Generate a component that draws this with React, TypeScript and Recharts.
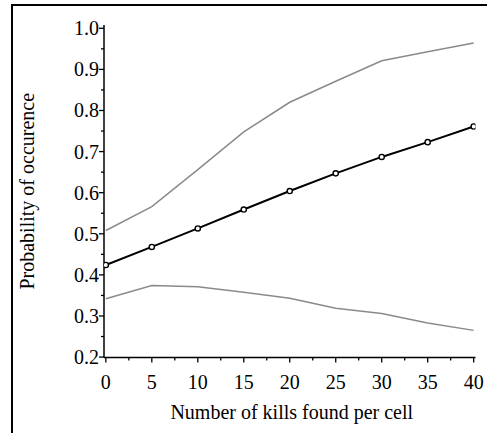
import React from 'react';
import { LineChart, Line, XAxis, YAxis } from 'recharts';

// number of kills found per cell (x positions of the estimates)
const kills = [0, 5, 10, 15, 20, 25, 30, 35, 40];
// fitted probability of occurence and its confidence band
const meanProb = [0.424, 0.468, 0.513, 0.559, 0.604, 0.647, 0.687, 0.723, 0.761];
const upperProb = [0.508, 0.566, 0.656, 0.748, 0.82, 0.871, 0.921, 0.943, 0.964];
const lowerProb = [0.342, 0.374, 0.371, 0.358, 0.343, 0.319, 0.306, 0.283, 0.265];

const xTicks = [0, 2.5, 5, 7.5, 10, 12.5, 15, 17.5, 20, 22.5, 25, 27.5, 30, 32.5, 35, 37.5, 40];
const yTicks = [0.2, 0.25, 0.3, 0.35, 0.4, 0.45, 0.5, 0.55, 0.6, 0.65, 0.7, 0.75, 0.8, 0.85, 0.9, 0.95, 1.0];

const data = kills.map((k, i) => ({
  kills: k,
  mean: meanProb[i],
  upper: upperProb[i],
  lower: lowerProb[i],
}));

const FONT = '"Liberation Serif", "Times New Roman", serif';

const XTick = (props: any) => {
  const { x, y, payload } = props;
  const major = payload.value % 5 === 0;
  return (
    <g>
      <line x1={x} x2={x} y1={y} y2={y + (major ? 5 : 3)} stroke="#000" strokeWidth={1.3} />
      {major && (
        <text x={x} y={y + 31} textAnchor="middle" fontFamily={FONT} fontSize={20} fill="#000">
          {payload.value}
        </text>
      )}
    </g>
  );
};

const YTick = (props: any) => {
  const { x, y, payload } = props;
  const v = payload.value as number;
  const major = Math.abs(v * 10 - Math.round(v * 10)) < 1e-6;
  return (
    <g>
      <line x1={x - (major ? 5 : 3)} x2={x} y1={y} y2={y} stroke="#000" strokeWidth={1.3} />
      {major && (
        <text x={x - 5} y={y + 7} textAnchor="end" fontFamily={FONT} fontSize={20} fill="#000">
          {v.toFixed(1)}
        </text>
      )}
    </g>
  );
};

export default function App() {
  return (
    <div style={{ position: 'absolute', left: 0, top: 0, width: 491, height: 433, background: '#fff' }}>
      <div
        style={{
          position: 'absolute',
          left: 11,
          top: 4,
          width: 476,
          height: 440,
          borderTop: '2px solid #000',
          borderLeft: '2px solid #000',
          boxSizing: 'border-box',
        }}
      />
      <div style={{ position: 'absolute', left: 0, top: 0 }}>
        <LineChart
          width={491}
          height={433}
          data={data}
          margin={{ top: 25, right: 15.5, bottom: 35.5, left: 44 }}
        >
          <XAxis
            dataKey="kills"
            type="number"
            domain={[-0.2, 40.2]}
            ticks={xTicks}
            interval={0}
            allowDataOverflow
            height={40}
            tickSize={0}
            tickMargin={0}
            tickLine={false}
            axisLine={{ stroke: '#000', strokeWidth: 1.5 }}
            tick={<XTick />}
            label={{
              content: (p: any) => (
                <text
                  x={p.viewBox.x + p.viewBox.width / 2 + 2}
                  y={p.viewBox.y + 61}
                  textAnchor="middle"
                  fontFamily={FONT}
                  fontSize={20}
                  fill="#000"
                >
                  Number of kills found per cell
                </text>
              ),
            }}
          />
          <XAxis
            xAxisId="top"
            dataKey="kills"
            type="number"
            orientation="top"
            domain={[-0.2, 40.2]}
            height={0}
            tick={false}
            tickLine={false}
            axisLine={{ stroke: '#000', strokeWidth: 1.5 }}
          />
          <YAxis
            type="number"
            domain={[0.199, 1.008]}
            ticks={yTicks}
            interval={0}
            allowDataOverflow
            width={60}
            tickSize={0}
            tickMargin={0}
            tickLine={false}
            axisLine={{ stroke: '#000', strokeWidth: 1.5 }}
            tick={<YTick />}
            label={{
              content: (p: any) => {
                const cx = 33.5;
                const cy = p.viewBox.y + p.viewBox.height / 2;
                return (
                  <text
                    x={cx}
                    y={cy}
                    transform={`rotate(-90, ${cx}, ${cy})`}
                    textAnchor="middle"
                    fontFamily={FONT}
                    fontSize={20}
                    fill="#000"
                  >
                    Probability of occurence
                  </text>
                );
              },
            }}
          />
          <YAxis
            yAxisId="right"
            orientation="right"
            type="number"
            domain={[0.199, 1.008]}
            width={0}
            tick={false}
            tickLine={false}
            axisLine={{ stroke: '#000', strokeWidth: 1.5 }}
          />
          <Line
            dataKey="upper"
            stroke="#8a8a8a"
            strokeWidth={1.5}
            dot={false}
            isAnimationActive={false}
          />
          <Line
            dataKey="lower"
            stroke="#8a8a8a"
            strokeWidth={1.5}
            dot={false}
            isAnimationActive={false}
          />
          <Line
            dataKey="mean"
            stroke="#000"
            strokeWidth={2}
            dot={{ r: 2.6, stroke: '#000', strokeWidth: 1.4, fill: '#fff' }}
            isAnimationActive={false}
          />
        </LineChart>
      </div>
    </div>
  );
}
